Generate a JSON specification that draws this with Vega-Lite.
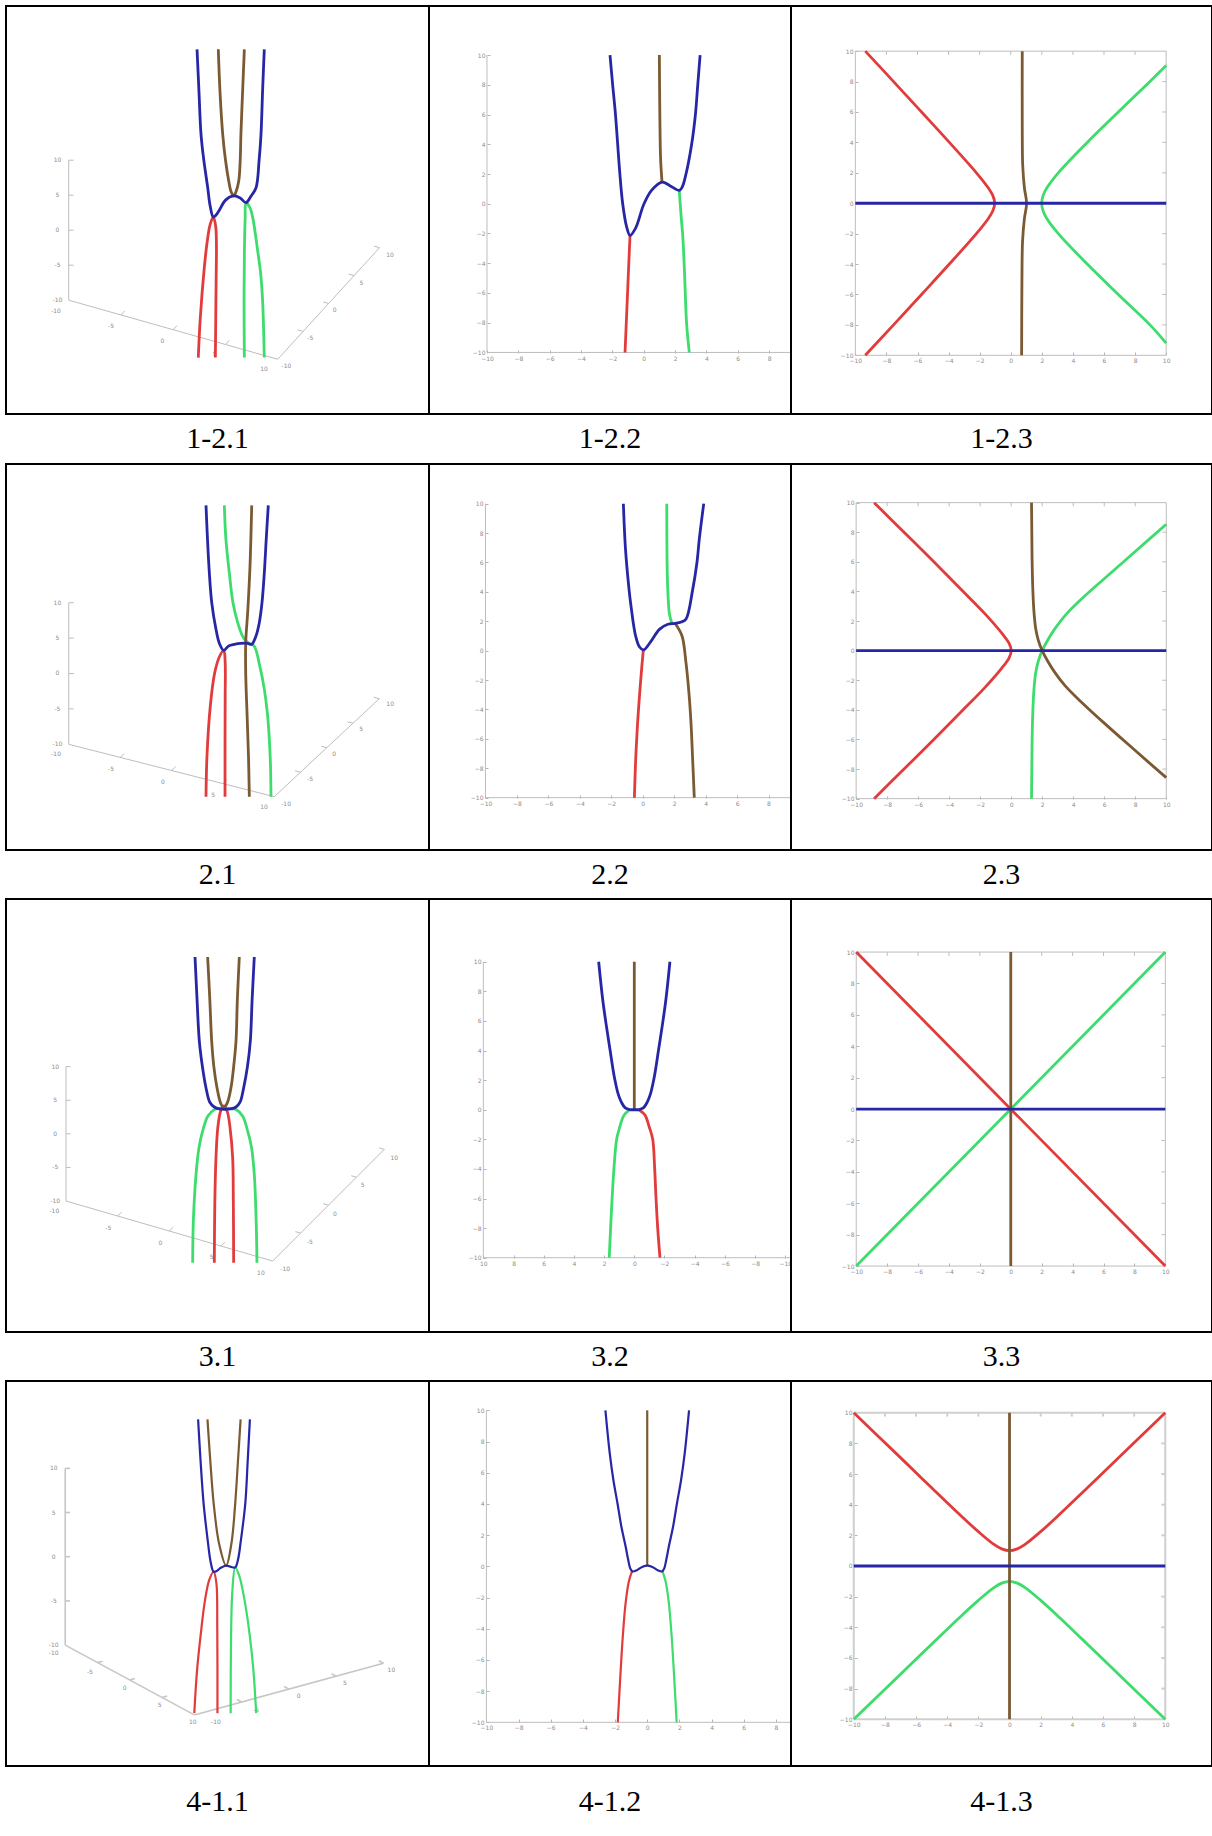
{
  "$schema": "https://vega.github.io/schema/vega-lite/v6.json",
  "background": "white",
  "padding": {"left": 5, "top": 5, "right": 0, "bottom": 0},
  "columns": 3,
  "spacing": 0,
  "bounds": "flush",
  "config": {
    "view": {"stroke": "black", "strokeWidth": 2},
    "axis": {"domain": false, "grid": false, "tickSize": -3, "tickColor": "#b4b4b4", "tickWidth": 1, "labelFontSize": 6, "labelColor": "#8c8c8c", "labelPadding": 5, "labelFont": "DejaVu Sans", "labelFlush": false, "labelOverlap": false},
    "line": {"strokeWidth": 2.8, "interpolate": "catmull-rom", "clip": true},
    "rule": {"color": "#bdbdbd", "strokeWidth": 1},
    "text": {"font": "DejaVu Sans", "fontSize": 6, "color": "#8c8c8c"}
  },
  "concat": [
        {
          "width": 423, "height": 408,
          "encoding": {
            "x": {"field": "x", "type": "quantitative", "axis": null, "scale": {"domain": [-8.96, 51.47], "nice": false, "zero": false}},
            "y": {"field": "y", "type": "quantitative", "axis": null, "scale": {"domain": [-26.26, 32.03], "nice": false, "zero": false}}
          },
          "layer": [
            {"data": {"values": [
              {"x": 0, "y": -10, "x2": 0, "y2": 10},
              {"x": 0, "y": -10, "x2": 29.86, "y2": -18.44},
              {"x": 29.86, "y": -18.44, "x2": 44.4, "y2": -2.5},
              {"x": 0, "y": -5, "x2": 0.7, "y2": -5},
              {"x": 0, "y": 0, "x2": 0.7, "y2": 0},
              {"x": 0, "y": 5, "x2": 0.7, "y2": 5},
              {"x": 0, "y": 10, "x2": 0.7, "y2": 10},
              {"x": 7.47, "y": -12.11, "x2": 8.01, "y2": -11.52},
              {"x": 14.93, "y": -14.22, "x2": 15.47, "y2": -13.63},
              {"x": 22.4, "y": -16.33, "x2": 22.94, "y2": -15.74},
              {"x": 33.5, "y": -14.46, "x2": 32.73, "y2": -14.24},
              {"x": 37.13, "y": -10.47, "x2": 36.36, "y2": -10.25},
              {"x": 40.77, "y": -6.49, "x2": 40.0, "y2": -6.27},
              {"x": 44.4, "y": -2.5, "x2": 43.63, "y2": -2.28}
            ]}, "mark": "rule", "encoding": {"x2": {"field": "x2"}, "y2": {"field": "y2"}}},
            {"data": {"values": [
              {"x": -1.6, "y": 10, "t": "10"}, {"x": -1.6, "y": 5, "t": "5"}, {"x": -1.6, "y": 0, "t": "0"}, {"x": -1.6, "y": -5, "t": "-5"}, {"x": -1.6, "y": -10, "t": "-10"},
              {"x": -1.81, "y": -11.6, "t": "-10"}, {"x": 6.04, "y": -13.7, "t": "-5"}, {"x": 13.4, "y": -15.8, "t": "0"}, {"x": 20.8, "y": -17.7, "t": "5"}, {"x": 27.9, "y": -19.9, "t": "10"},
              {"x": 31.1, "y": -19.4, "t": "-10"}, {"x": 34.5, "y": -15.4, "t": "-5"}, {"x": 38, "y": -11.4, "t": "0"}, {"x": 41.8, "y": -7.5, "t": "5"}, {"x": 45.9, "y": -3.5, "t": "10"}
            ]}, "mark": "text", "encoding": {"text": {"field": "t"}}},
            {"data": {"values": [
              {"c": "r", "x": 18.51, "y": -18.2}, {"c": "r", "x": 18.8, "y": -12.5}, {"c": "r", "x": 19.37, "y": -5.36}, {"c": "r", "x": 19.8, "y": -1.5}, {"c": "r", "x": 20.2, "y": 0.8}, {"c": "r", "x": 20.66, "y": 1.89}, {"c": "r", "x": 21.0, "y": 0.5}, {"c": "r", "x": 21.1, "y": -2}, {"c": "r", "x": 21.05, "y": -8}, {"c": "r", "x": 20.95, "y": -18.2},
              {"c": "g", "x": 25.09, "y": -18.2}, {"c": "g", "x": 25.05, "y": -10}, {"c": "g", "x": 25.1, "y": -3}, {"c": "g", "x": 25.2, "y": 1.5}, {"c": "g", "x": 25.33, "y": 3.93}, {"c": "g", "x": 25.9, "y": 3.2}, {"c": "g", "x": 26.29, "y": 1.79}, {"c": "g", "x": 27.0, "y": -2.97}, {"c": "g", "x": 27.4, "y": -6}, {"c": "g", "x": 27.7, "y": -10.1}, {"c": "g", "x": 27.94, "y": -18.2},
              {"c": "n", "x": 21.37, "y": 25.84}, {"c": "n", "x": 21.6, "y": 20}, {"c": "n", "x": 22.0, "y": 13.7}, {"c": "n", "x": 22.4, "y": 10}, {"c": "n", "x": 22.86, "y": 7.03}, {"c": "n", "x": 23.2, "y": 5.5}, {"c": "n", "x": 23.57, "y": 4.89}, {"c": "n", "x": 23.9, "y": 5.5}, {"c": "n", "x": 24.29, "y": 7.03}, {"c": "n", "x": 24.5, "y": 10}, {"c": "n", "x": 24.6, "y": 13.7}, {"c": "n", "x": 24.85, "y": 20}, {"c": "n", "x": 25.09, "y": 25.84},
              {"c": "b", "x": 18.33, "y": 25.84}, {"c": "b", "x": 18.6, "y": 20}, {"c": "b", "x": 18.9, "y": 13.7}, {"c": "b", "x": 19.3, "y": 10}, {"c": "b", "x": 19.86, "y": 6.07}, {"c": "b", "x": 20.2, "y": 3.5}, {"c": "b", "x": 20.66, "y": 1.89}, {"c": "b", "x": 21.3, "y": 2.5}, {"c": "b", "x": 22.4, "y": 4.3}, {"c": "b", "x": 23.57, "y": 4.89}, {"c": "b", "x": 24.5, "y": 4.6}, {"c": "b", "x": 25.33, "y": 3.93}, {"c": "b", "x": 26.0, "y": 4.8}, {"c": "b", "x": 26.76, "y": 6.07}, {"c": "b", "x": 27.2, "y": 10}, {"c": "b", "x": 27.47, "y": 13.7}, {"c": "b", "x": 27.7, "y": 20}, {"c": "b", "x": 27.94, "y": 25.84}
            ]}, "mark": "line", "encoding": {"color": {"field": "c", "type": "nominal", "legend": null, "scale": {"domain": ["r", "g", "n", "b"], "range": ["#e23b3b", "#3ddc6c", "#7b5a33", "#2626a6"]}}, "order": {"value": null}}}
          ]
        },
        {
          "width": 362, "height": 408,
          "encoding": {
            "x": {"field": "x", "type": "quantitative", "title": null, "scale": {"domain": [-13.7, 9.4], "nice": false, "zero": false}, "axis": {"values": [-10, -8, -6, -4, -2, 0, 2, 4, 6, 8], "offset": -61}},
            "y": {"field": "y", "type": "quantitative", "title": null, "scale": {"domain": [-14.14, 13.3], "nice": false, "zero": false}, "axis": {"values": [-10, -8, -6, -4, -2, 0, 2, 4, 6, 8, 10], "offset": -58}}
          },
          "layer": [
            {"data": {"values": [
              {"x": -10, "y": -10, "x2": -10, "y2": 10},
              {"x": -10, "y": -10, "x2": 9.4, "y2": -10}
            ]}, "mark": {"type": "rule", "clip": true}, "encoding": {"x2": {"field": "x2"}, "y2": {"field": "y2"}}},
            {"data": {"values": [
              {"c": "r", "x": -0.87, "y": -2.12}, {"c": "r", "x": -0.95, "y": -4}, {"c": "r", "x": -1.03, "y": -6}, {"c": "r", "x": -1.11, "y": -8}, {"c": "r", "x": -1.19, "y": -10},
              {"c": "g", "x": 2.27, "y": 0.9}, {"c": "g", "x": 2.4, "y": -1}, {"c": "g", "x": 2.49, "y": -2.1}, {"c": "g", "x": 2.6, "y": -4.5}, {"c": "g", "x": 2.74, "y": -8.1}, {"c": "g", "x": 2.91, "y": -10},
              {"c": "n", "x": 1.0, "y": 10}, {"c": "n", "x": 1.03, "y": 6}, {"c": "n", "x": 1.08, "y": 3}, {"c": "n", "x": 1.17, "y": 1.46},
              {"c": "b", "x": -2.15, "y": 10}, {"c": "b", "x": -1.98, "y": 8}, {"c": "b", "x": -1.8, "y": 6}, {"c": "b", "x": -1.66, "y": 4}, {"c": "b", "x": -1.52, "y": 2}, {"c": "b", "x": -1.34, "y": 0}, {"c": "b", "x": -1.1, "y": -1.5}, {"c": "b", "x": -0.87, "y": -2.12}, {"c": "b", "x": -0.5, "y": -1.6}, {"c": "b", "x": 0, "y": -0.05}, {"c": "b", "x": 0.5, "y": 0.9}, {"c": "b", "x": 1.17, "y": 1.46}, {"c": "b", "x": 1.7, "y": 1.2}, {"c": "b", "x": 2.27, "y": 0.9}, {"c": "b", "x": 2.45, "y": 1.1}, {"c": "b", "x": 2.7, "y": 2.0}, {"c": "b", "x": 3.06, "y": 4}, {"c": "b", "x": 3.3, "y": 6}, {"c": "b", "x": 3.45, "y": 8}, {"c": "b", "x": 3.6, "y": 10}
            ]}, "mark": "line", "encoding": {"color": {"field": "c", "type": "nominal", "legend": null, "scale": {"domain": ["r", "g", "n", "b"], "range": ["#e23b3b", "#3ddc6c", "#7b5a33", "#2626a6"]}}, "order": {"value": null}}}
          ]
        },
        {
          "width": 421, "height": 408,
          "encoding": {
            "x": {"field": "x", "type": "quantitative", "title": null, "scale": {"domain": [-14.14, 12.95], "nice": false, "zero": false}, "axis": {"values": [-10, -8, -6, -4, -2, 0, 2, 4, 6, 8, 10], "offset": -59}},
            "y": {"field": "y", "type": "quantitative", "title": null, "scale": {"domain": [-13.86, 12.97], "nice": false, "zero": false}, "axis": {"values": [-10, -8, -6, -4, -2, 0, 2, 4, 6, 8, 10], "offset": -64}}
          },
          "layer": [
            {"data": {"values": [
              {"x": -10, "y": -10, "x2": 10, "y2": -10}, {"x": -10, "y": 10, "x2": 10, "y2": 10}, {"x": -10, "y": -10, "x2": -10, "y2": 10}, {"x": 10, "y": -10, "x2": 10, "y2": 10},
              {"x": -8, "y": 10, "x2": -8, "y2": 9.75}, {"x": -6, "y": 10, "x2": -6, "y2": 9.75}, {"x": -4, "y": 10, "x2": -4, "y2": 9.75}, {"x": -2, "y": 10, "x2": -2, "y2": 9.75}, {"x": 0, "y": 10, "x2": 0, "y2": 9.75}, {"x": 2, "y": 10, "x2": 2, "y2": 9.75}, {"x": 4, "y": 10, "x2": 4, "y2": 9.75}, {"x": 6, "y": 10, "x2": 6, "y2": 9.75}, {"x": 8, "y": 10, "x2": 8, "y2": 9.75},
              {"x": 10, "y": -8, "x2": 9.75, "y2": -8}, {"x": 10, "y": -6, "x2": 9.75, "y2": -6}, {"x": 10, "y": -4, "x2": 9.75, "y2": -4}, {"x": 10, "y": -2, "x2": 9.75, "y2": -2}, {"x": 10, "y": 0, "x2": 9.75, "y2": 0}, {"x": 10, "y": 2, "x2": 9.75, "y2": 2}, {"x": 10, "y": 4, "x2": 9.75, "y2": 4}, {"x": 10, "y": 6, "x2": 9.75, "y2": 6}, {"x": 10, "y": 8, "x2": 9.75, "y2": 8}
            ]}, "mark": "rule", "encoding": {"x2": {"field": "x2"}, "y2": {"field": "y2"}}},
            {"data": {"values": [
              {"c": "r", "x": -9.36, "y": 10}, {"c": "r", "x": -7.54, "y": 8}, {"c": "r", "x": -5.74, "y": 6}, {"c": "r", "x": -3.95, "y": 4}, {"c": "r", "x": -2.21, "y": 2}, {"c": "r", "x": -1.44, "y": 1}, {"c": "r", "x": -1.15, "y": 0.5}, {"c": "r", "x": -1.03, "y": 0}, {"c": "r", "x": -1.15, "y": -0.5}, {"c": "r", "x": -1.44, "y": -1}, {"c": "r", "x": -2.21, "y": -2}, {"c": "r", "x": -3.95, "y": -4}, {"c": "r", "x": -5.74, "y": -6}, {"c": "r", "x": -7.54, "y": -8}, {"c": "r", "x": -9.36, "y": -10},
              {"c": "g", "x": 10, "y": 9.05}, {"c": "g", "x": 8.96, "y": 8}, {"c": "g", "x": 6.92, "y": 6}, {"c": "g", "x": 4.92, "y": 4}, {"c": "g", "x": 3.06, "y": 2}, {"c": "g", "x": 2.32, "y": 1}, {"c": "g", "x": 2.08, "y": 0.5}, {"c": "g", "x": 1.99, "y": 0}, {"c": "g", "x": 2.08, "y": -0.5}, {"c": "g", "x": 2.32, "y": -1}, {"c": "g", "x": 3.06, "y": -2}, {"c": "g", "x": 4.92, "y": -4}, {"c": "g", "x": 6.92, "y": -6}, {"c": "g", "x": 8.96, "y": -8}, {"c": "g", "x": 10, "y": -9.2},
              {"c": "n", "x": 0.74, "y": 10}, {"c": "n", "x": 0.74, "y": 5}, {"c": "n", "x": 0.77, "y": 2.5}, {"c": "n", "x": 0.88, "y": 1}, {"c": "n", "x": 1.02, "y": 0}, {"c": "n", "x": 0.88, "y": -1}, {"c": "n", "x": 0.76, "y": -2.5}, {"c": "n", "x": 0.72, "y": -5}, {"c": "n", "x": 0.7, "y": -10},
              {"c": "b", "x": -10, "y": 0}, {"c": "b", "x": 10, "y": 0}
            ]}, "mark": "line", "encoding": {"color": {"field": "c", "type": "nominal", "legend": null, "scale": {"domain": ["r", "g", "n", "b"], "range": ["#e23b3b", "#3ddc6c", "#7b5a33", "#2626a6"]}}, "order": {"value": null}}}
          ]
        },
        {"width": 423, "height": 50, "data": {"values": [{"t": "1-2.1"}]}, "mark": {"type": "text", "font": "Liberation Serif", "fontSize": 30, "color": "black", "baseline": "middle"}, "encoding": {"text": {"field": "t"}}},
        {"width": 362, "height": 50, "data": {"values": [{"t": "1-2.2"}]}, "mark": {"type": "text", "font": "Liberation Serif", "fontSize": 30, "color": "black", "baseline": "middle"}, "encoding": {"text": {"field": "t"}}},
        {"width": 421, "height": 50, "data": {"values": [{"t": "1-2.3"}]}, "mark": {"type": "text", "font": "Liberation Serif", "fontSize": 30, "color": "black", "baseline": "middle"}, "encoding": {"text": {"field": "t"}}},
        {
          "width": 423, "height": 386,
          "encoding": {
            "x": {"field": "x", "type": "quantitative", "axis": null, "scale": {"domain": [-8.86, 50.89], "nice": false, "zero": false}},
            "y": {"field": "y", "type": "quantitative", "axis": null, "scale": {"domain": [-24.93, 29.59], "nice": false, "zero": false}}
          },
          "layer": [
            {"data": {"values": [
              {"x": 0, "y": -10, "x2": 0, "y2": 10},
              {"x": 0, "y": -10, "x2": 29.04, "y2": -17.4},
              {"x": 29.04, "y": -17.4, "x2": 43.87, "y2": -3.56},
              {"x": 0, "y": -5, "x2": 0.7, "y2": -5},
              {"x": 0, "y": 0, "x2": 0.7, "y2": 0},
              {"x": 0, "y": 5, "x2": 0.7, "y2": 5},
              {"x": 0, "y": 10, "x2": 0.7, "y2": 10},
              {"x": 7.26, "y": -11.85, "x2": 7.84, "y2": -11.31},
              {"x": 14.52, "y": -13.7, "x2": 15.1, "y2": -13.16},
              {"x": 21.78, "y": -15.55, "x2": 22.36, "y2": -15.01},
              {"x": 32.75, "y": -13.94, "x2": 31.97, "y2": -13.74},
              {"x": 36.46, "y": -10.48, "x2": 35.68, "y2": -10.28},
              {"x": 40.16, "y": -7.02, "x2": 39.38, "y2": -6.82},
              {"x": 43.87, "y": -3.56, "x2": 43.09, "y2": -3.36}
            ]}, "mark": "rule", "encoding": {"x2": {"field": "x2"}, "y2": {"field": "y2"}}},
            {"data": {"values": [
              {"x": -1.6, "y": 10, "t": "10"}, {"x": -1.6, "y": 5, "t": "5"}, {"x": -1.6, "y": 0, "t": "0"}, {"x": -1.6, "y": -5, "t": "-5"}, {"x": -1.6, "y": -10, "t": "-10"},
              {"x": -1.79, "y": -11.4, "t": "-10"}, {"x": 5.97, "y": -13.5, "t": "-5"}, {"x": 13.3, "y": -15.3, "t": "0"}, {"x": 20.4, "y": -17.1, "t": "5"}, {"x": 27.6, "y": -18.8, "t": "10"},
              {"x": 30.7, "y": -18.4, "t": "-10"}, {"x": 34.1, "y": -14.9, "t": "-5"}, {"x": 37.5, "y": -11.3, "t": "0"}, {"x": 41.3, "y": -7.9, "t": "5"}, {"x": 45.4, "y": -4.35, "t": "10"}
            ]}, "mark": "text", "encoding": {"text": {"field": "t"}}},
            {"data": {"values": [
              {"c": "r", "x": 19.39, "y": -17.4}, {"c": "r", "x": 19.53, "y": -11.65}, {"c": "r", "x": 20.0, "y": -4.59}, {"c": "r", "x": 20.6, "y": 0}, {"c": "r", "x": 21.3, "y": 2.4}, {"c": "r", "x": 21.9, "y": 3.27}, {"c": "r", "x": 22.1, "y": 1.5}, {"c": "r", "x": 22.1, "y": -3}, {"c": "r", "x": 22.08, "y": -10}, {"c": "r", "x": 22.08, "y": -17.4},
              {"c": "g", "x": 21.98, "y": 23.75}, {"c": "g", "x": 22.2, "y": 19}, {"c": "g", "x": 22.68, "y": 14.24}, {"c": "g", "x": 23.2, "y": 10}, {"c": "g", "x": 23.87, "y": 7.18}, {"c": "g", "x": 24.5, "y": 5.4}, {"c": "g", "x": 25.04, "y": 4.59}, {"c": "g", "x": 25.6, "y": 4.2}, {"c": "g", "x": 26.2, "y": 3.88}, {"c": "g", "x": 27.0, "y": 1}, {"c": "g", "x": 27.63, "y": -2.24}, {"c": "g", "x": 28.05, "y": -5.5}, {"c": "g", "x": 28.34, "y": -9.3}, {"c": "g", "x": 28.5, "y": -13}, {"c": "g", "x": 28.57, "y": -17.4},
              {"c": "n", "x": 25.85, "y": 23.75}, {"c": "n", "x": 25.6, "y": 15}, {"c": "n", "x": 25.3, "y": 9}, {"c": "n", "x": 25.0, "y": 4.3}, {"c": "n", "x": 25.0, "y": 0}, {"c": "n", "x": 25.2, "y": -6}, {"c": "n", "x": 25.4, "y": -12}, {"c": "n", "x": 25.51, "y": -17.4},
              {"c": "b", "x": 19.39, "y": 23.75}, {"c": "b", "x": 19.6, "y": 19}, {"c": "b", "x": 19.86, "y": 14.24}, {"c": "b", "x": 20.2, "y": 10}, {"c": "b", "x": 20.8, "y": 6.24}, {"c": "b", "x": 21.3, "y": 4.2}, {"c": "b", "x": 21.9, "y": 3.27}, {"c": "b", "x": 22.6, "y": 3.9}, {"c": "b", "x": 23.39, "y": 4.12}, {"c": "b", "x": 24.3, "y": 4.26}, {"c": "b", "x": 25.28, "y": 4.26}, {"c": "b", "x": 25.85, "y": 4.12}, {"c": "b", "x": 26.45, "y": 5.3}, {"c": "b", "x": 26.92, "y": 7.18}, {"c": "b", "x": 27.3, "y": 10}, {"c": "b", "x": 27.63, "y": 14.24}, {"c": "b", "x": 27.9, "y": 19}, {"c": "b", "x": 28.19, "y": 23.75}
            ]}, "mark": "line", "encoding": {"color": {"field": "c", "type": "nominal", "legend": null, "scale": {"domain": ["r", "g", "n", "b"], "range": ["#e23b3b", "#3ddc6c", "#7b5a33", "#2626a6"]}}, "order": {"value": null}}}
          ]
        },
        {
          "width": 362, "height": 386,
          "encoding": {
            "x": {"field": "x", "type": "quantitative", "title": null, "scale": {"domain": [-13.59, 9.43], "nice": false, "zero": false}, "axis": {"values": [-10, -8, -6, -4, -2, 0, 2, 4, 6, 8], "offset": -52}},
            "y": {"field": "y", "type": "quantitative", "title": null, "scale": {"domain": [-13.56, 12.7], "nice": false, "zero": false}, "axis": {"values": [-10, -8, -6, -4, -2, 0, 2, 4, 6, 8, 10], "offset": -56}}
          },
          "layer": [
            {"data": {"values": [
              {"x": -10, "y": -10, "x2": -10, "y2": 10},
              {"x": -10, "y": -10, "x2": 9.43, "y2": -10}
            ]}, "mark": {"type": "rule", "clip": true}, "encoding": {"x2": {"field": "x2"}, "y2": {"field": "y2"}}},
            {"data": {"values": [
              {"c": "r", "x": 0.04, "y": 0.05}, {"c": "r", "x": -0.05, "y": -1}, {"c": "r", "x": -0.2, "y": -3}, {"c": "r", "x": -0.33, "y": -5}, {"c": "r", "x": -0.45, "y": -7.5}, {"c": "r", "x": -0.53, "y": -10},
              {"c": "g", "x": 1.53, "y": 10}, {"c": "g", "x": 1.55, "y": 6}, {"c": "g", "x": 1.6, "y": 4}, {"c": "g", "x": 1.7, "y": 2.5}, {"c": "g", "x": 1.85, "y": 1.88},
              {"c": "n", "x": 2.07, "y": 1.85}, {"c": "n", "x": 2.5, "y": 1.0}, {"c": "n", "x": 2.75, "y": -0.8}, {"c": "n", "x": 2.95, "y": -3}, {"c": "n", "x": 3.07, "y": -4.9}, {"c": "n", "x": 3.18, "y": -7.5}, {"c": "n", "x": 3.28, "y": -10},
              {"c": "b", "x": -1.23, "y": 10}, {"c": "b", "x": -1.1, "y": 7}, {"c": "b", "x": -0.9, "y": 4.5}, {"c": "b", "x": -0.74, "y": 3}, {"c": "b", "x": -0.45, "y": 1}, {"c": "b", "x": -0.2, "y": 0.25}, {"c": "b", "x": 0.05, "y": 0.05}, {"c": "b", "x": 0.5, "y": 0.6}, {"c": "b", "x": 1.06, "y": 1.45}, {"c": "b", "x": 1.6, "y": 1.8}, {"c": "b", "x": 2.07, "y": 1.86}, {"c": "b", "x": 2.45, "y": 1.95}, {"c": "b", "x": 2.75, "y": 2.14}, {"c": "b", "x": 3.18, "y": 4.17}, {"c": "b", "x": 3.45, "y": 6}, {"c": "b", "x": 3.6, "y": 7.6}, {"c": "b", "x": 3.88, "y": 10}
            ]}, "mark": "line", "encoding": {"color": {"field": "c", "type": "nominal", "legend": null, "scale": {"domain": ["r", "g", "n", "b"], "range": ["#e23b3b", "#3ddc6c", "#7b5a33", "#2626a6"]}}, "order": {"value": null}}}
          ]
        },
        {
          "width": 421, "height": 386,
          "encoding": {
            "x": {"field": "x", "type": "quantitative", "title": null, "scale": {"domain": [-14.2, 12.95], "nice": false, "zero": false}, "axis": {"values": [-10, -8, -6, -4, -2, 0, 2, 4, 6, 8, 10], "offset": -51}},
            "y": {"field": "y", "type": "quantitative", "title": null, "scale": {"domain": [-13.47, 12.61], "nice": false, "zero": false}, "axis": {"values": [-10, -8, -6, -4, -2, 0, 2, 4, 6, 8, 10], "offset": -65}}
          },
          "layer": [
            {"data": {"values": [
              {"x": -10, "y": -10, "x2": 10, "y2": -10}, {"x": -10, "y": 10, "x2": 10, "y2": 10}, {"x": -10, "y": -10, "x2": -10, "y2": 10}, {"x": 10, "y": -10, "x2": 10, "y2": 10},
              {"x": -8, "y": 10, "x2": -8, "y2": 9.75}, {"x": -6, "y": 10, "x2": -6, "y2": 9.75}, {"x": -4, "y": 10, "x2": -4, "y2": 9.75}, {"x": -2, "y": 10, "x2": -2, "y2": 9.75}, {"x": 0, "y": 10, "x2": 0, "y2": 9.75}, {"x": 2, "y": 10, "x2": 2, "y2": 9.75}, {"x": 4, "y": 10, "x2": 4, "y2": 9.75}, {"x": 6, "y": 10, "x2": 6, "y2": 9.75}, {"x": 8, "y": 10, "x2": 8, "y2": 9.75},
              {"x": 10, "y": -8, "x2": 9.75, "y2": -8}, {"x": 10, "y": -6, "x2": 9.75, "y2": -6}, {"x": 10, "y": -4, "x2": 9.75, "y2": -4}, {"x": 10, "y": -2, "x2": 9.75, "y2": -2}, {"x": 10, "y": 0, "x2": 9.75, "y2": 0}, {"x": 10, "y": 2, "x2": 9.75, "y2": 2}, {"x": 10, "y": 4, "x2": 9.75, "y2": 4}, {"x": 10, "y": 6, "x2": 9.75, "y2": 6}, {"x": 10, "y": 8, "x2": 9.75, "y2": 8}
            ]}, "mark": "rule", "encoding": {"x2": {"field": "x2"}, "y2": {"field": "y2"}}},
            {"data": {"values": [
              {"c": "r", "x": -8.84, "y": 10}, {"c": "r", "x": -6.91, "y": 8}, {"c": "r", "x": -4.99, "y": 6}, {"c": "r", "x": -3.24, "y": 4.15}, {"c": "r", "x": -1.7, "y": 2.5}, {"c": "r", "x": -0.62, "y": 1.2}, {"c": "r", "x": -0.14, "y": 0.5}, {"c": "r", "x": 0, "y": 0}, {"c": "r", "x": -0.14, "y": -0.5}, {"c": "r", "x": -0.62, "y": -1.2}, {"c": "r", "x": -1.7, "y": -2.5}, {"c": "r", "x": -3.24, "y": -4.15}, {"c": "r", "x": -4.99, "y": -6}, {"c": "r", "x": -6.91, "y": -8}, {"c": "r", "x": -8.84, "y": -10},
              {"c": "g", "x": 10, "y": 8.54}, {"c": "g", "x": 8, "y": 6.7}, {"c": "g", "x": 6, "y": 4.86}, {"c": "g", "x": 4.5, "y": 3.45}, {"c": "g", "x": 3.5, "y": 2.4}, {"c": "g", "x": 2.8, "y": 1.45}, {"c": "g", "x": 2.35, "y": 0.7}, {"c": "g", "x": 2.0, "y": 0}, {"c": "g", "x": 1.75, "y": -0.7}, {"c": "g", "x": 1.58, "y": -1.5}, {"c": "g", "x": 1.47, "y": -2.6}, {"c": "g", "x": 1.4, "y": -4}, {"c": "g", "x": 1.35, "y": -6}, {"c": "g", "x": 1.33, "y": -8}, {"c": "g", "x": 1.31, "y": -10},
              {"c": "n", "x": 1.31, "y": 10}, {"c": "n", "x": 1.33, "y": 8}, {"c": "n", "x": 1.35, "y": 6}, {"c": "n", "x": 1.4, "y": 4}, {"c": "n", "x": 1.47, "y": 2.6}, {"c": "n", "x": 1.58, "y": 1.5}, {"c": "n", "x": 1.75, "y": 0.7}, {"c": "n", "x": 2.0, "y": 0}, {"c": "n", "x": 2.35, "y": -0.7}, {"c": "n", "x": 2.8, "y": -1.45}, {"c": "n", "x": 3.5, "y": -2.4}, {"c": "n", "x": 4.5, "y": -3.45}, {"c": "n", "x": 6, "y": -4.9}, {"c": "n", "x": 8, "y": -6.75}, {"c": "n", "x": 10, "y": -8.58},
              {"c": "b", "x": -10, "y": 0}, {"c": "b", "x": 10, "y": 0}
            ]}, "mark": "line", "encoding": {"color": {"field": "c", "type": "nominal", "legend": null, "scale": {"domain": ["r", "g", "n", "b"], "range": ["#e23b3b", "#3ddc6c", "#7b5a33", "#2626a6"]}}, "order": {"value": null}}}
          ]
        },
        {"width": 423, "height": 49, "data": {"values": [{"t": "2.1"}]}, "mark": {"type": "text", "font": "Liberation Serif", "fontSize": 30, "color": "black", "baseline": "middle"}, "encoding": {"text": {"field": "t"}}},
        {"width": 362, "height": 49, "data": {"values": [{"t": "2.2"}]}, "mark": {"type": "text", "font": "Liberation Serif", "fontSize": 30, "color": "black", "baseline": "middle"}, "encoding": {"text": {"field": "t"}}},
        {"width": 421, "height": 49, "data": {"values": [{"t": "2.3"}]}, "mark": {"type": "text", "font": "Liberation Serif", "fontSize": 30, "color": "black", "baseline": "middle"}, "encoding": {"text": {"field": "t"}}},
        {
          "width": 423, "height": 433,
          "encoding": {
            "x": {"field": "x", "type": "quantitative", "axis": null, "scale": {"domain": [-8.93, 54.02], "nice": false, "zero": false}},
            "y": {"field": "y", "type": "quantitative", "axis": null, "scale": {"domain": [-29.49, 34.94], "nice": false, "zero": false}}
          },
          "layer": [
            {"data": {"values": [
              {"x": 0, "y": -10, "x2": 0, "y2": 10},
              {"x": 0, "y": -10, "x2": 30.76, "y2": -18.93},
              {"x": 30.76, "y": -18.93, "x2": 47.37, "y2": -2.31},
              {"x": 0, "y": -5, "x2": 0.7, "y2": -5},
              {"x": 0, "y": 0, "x2": 0.7, "y2": 0},
              {"x": 0, "y": 5, "x2": 0.7, "y2": 5},
              {"x": 0, "y": 10, "x2": 0.7, "y2": 10},
              {"x": 7.69, "y": -12.23, "x2": 8.26, "y2": -11.66},
              {"x": 15.38, "y": -14.47, "x2": 15.95, "y2": -13.9},
              {"x": 23.07, "y": -16.7, "x2": 23.64, "y2": -16.13},
              {"x": 34.91, "y": -14.77, "x2": 34.14, "y2": -14.55},
              {"x": 39.07, "y": -10.62, "x2": 38.3, "y2": -10.4},
              {"x": 43.22, "y": -6.46, "x2": 42.45, "y2": -6.24},
              {"x": 47.37, "y": -2.31, "x2": 46.6, "y2": -2.09}
            ]}, "mark": "rule", "encoding": {"x2": {"field": "x2"}, "y2": {"field": "y2"}}},
            {"data": {"values": [
              {"x": -1.6, "y": 10, "t": "10"}, {"x": -1.6, "y": 5, "t": "5"}, {"x": -1.6, "y": 0, "t": "0"}, {"x": -1.6, "y": -5, "t": "-5"}, {"x": -1.6, "y": -10, "t": "-10"},
              {"x": -1.74, "y": -11.49, "t": "-10"}, {"x": 6.3, "y": -13.97, "t": "-5"}, {"x": 14.03, "y": -16.2, "t": "0"}, {"x": 21.68, "y": -18.4, "t": "5"}, {"x": 29.0, "y": -20.67, "t": "10"},
              {"x": 32.63, "y": -20.17, "t": "-10"}, {"x": 36.3, "y": -16.06, "t": "-5"}, {"x": 40.03, "y": -11.9, "t": "0"}, {"x": 44.15, "y": -7.67, "t": "5"}, {"x": 48.85, "y": -3.56, "t": "10"}
            ]}, "mark": "text", "encoding": {"text": {"field": "t"}}},
            {"data": {"values": [
              {"c": "g", "x": 18.85, "y": -19.18}, {"c": "g", "x": 18.95, "y": -13}, {"c": "g", "x": 19.35, "y": -6.03}, {"c": "g", "x": 19.8, "y": -2}, {"c": "g", "x": 20.34, "y": 0.42}, {"c": "g", "x": 21.1, "y": 2.6}, {"c": "g", "x": 22.07, "y": 3.6}, {"c": "g", "x": 23.0, "y": 3.8}, {"c": "g", "x": 24.0, "y": 3.8}, {"c": "g", "x": 25.3, "y": 3.6}, {"c": "g", "x": 26.3, "y": 2.6}, {"c": "g", "x": 27.03, "y": 0.42}, {"c": "g", "x": 27.6, "y": -2}, {"c": "g", "x": 28.02, "y": -6.03}, {"c": "g", "x": 28.3, "y": -13}, {"c": "g", "x": 28.42, "y": -19.18},
              {"c": "r", "x": 22.07, "y": -19.18}, {"c": "r", "x": 22.15, "y": -10}, {"c": "r", "x": 22.32, "y": -3.55}, {"c": "r", "x": 22.6, "y": 1}, {"c": "r", "x": 23.05, "y": 3.5}, {"c": "r", "x": 23.5, "y": 4.14}, {"c": "r", "x": 24.0, "y": 3.3}, {"c": "r", "x": 24.4, "y": 1}, {"c": "r", "x": 24.8, "y": -3.55}, {"c": "r", "x": 24.9, "y": -10}, {"c": "r", "x": 24.95, "y": -19.18},
              {"c": "n", "x": 21.08, "y": 26.31}, {"c": "n", "x": 21.4, "y": 20}, {"c": "n", "x": 21.68, "y": 13.81}, {"c": "n", "x": 22.0, "y": 10}, {"c": "n", "x": 22.47, "y": 6.86}, {"c": "n", "x": 23.0, "y": 4.6}, {"c": "n", "x": 23.47, "y": 3.88}, {"c": "n", "x": 24.0, "y": 4.6}, {"c": "n", "x": 24.55, "y": 6.86}, {"c": "n", "x": 24.95, "y": 10}, {"c": "n", "x": 25.3, "y": 13.81}, {"c": "n", "x": 25.5, "y": 20}, {"c": "n", "x": 25.79, "y": 26.31},
              {"c": "b", "x": 19.2, "y": 26.31}, {"c": "b", "x": 19.5, "y": 20}, {"c": "b", "x": 19.84, "y": 13.81}, {"c": "b", "x": 20.3, "y": 10}, {"c": "b", "x": 20.83, "y": 6.86}, {"c": "b", "x": 21.4, "y": 4.7}, {"c": "b", "x": 22.07, "y": 3.99}, {"c": "b", "x": 22.8, "y": 3.7}, {"c": "b", "x": 23.6, "y": 3.64}, {"c": "b", "x": 24.5, "y": 3.7}, {"c": "b", "x": 25.3, "y": 3.99}, {"c": "b", "x": 25.9, "y": 4.7}, {"c": "b", "x": 26.44, "y": 6.86}, {"c": "b", "x": 27.0, "y": 10}, {"c": "b", "x": 27.43, "y": 13.81}, {"c": "b", "x": 27.7, "y": 20}, {"c": "b", "x": 28.02, "y": 26.31}
            ]}, "mark": "line", "encoding": {"color": {"field": "c", "type": "nominal", "legend": null, "scale": {"domain": ["r", "g", "n", "b"], "range": ["#e23b3b", "#3ddc6c", "#7b5a33", "#2626a6"]}}, "order": {"value": null}}}
          ]
        },
        {
          "width": 362, "height": 433,
          "encoding": {
            "x": {"field": "x", "type": "quantitative", "title": null, "scale": {"domain": [-10.38, 13.6], "reverse": true, "nice": false, "zero": false}, "axis": {"values": [-10, -8, -6, -4, -2, 0, 2, 4, 6, 8, 10], "offset": -74}},
            "y": {"field": "y", "type": "quantitative", "title": null, "scale": {"domain": [-15.02, 14.24], "nice": false, "zero": false}, "axis": {"values": [-10, -8, -6, -4, -2, 0, 2, 4, 6, 8, 10], "offset": -54}}
          },
          "layer": [
            {"data": {"values": [
              {"x": 10, "y": -10, "x2": 10, "y2": 10},
              {"x": 10, "y": -10, "x2": -10.38, "y2": -10}
            ]}, "mark": {"type": "rule", "clip": true}, "encoding": {"x2": {"field": "x2"}, "y2": {"field": "y2"}}},
            {"data": {"values": [
              {"c": "r", "x": -0.3, "y": 0}, {"c": "r", "x": -0.7, "y": -0.35}, {"c": "r", "x": -1.0, "y": -1.2}, {"c": "r", "x": -1.22, "y": -2}, {"c": "r", "x": -1.35, "y": -4}, {"c": "r", "x": -1.44, "y": -6}, {"c": "r", "x": -1.55, "y": -8}, {"c": "r", "x": -1.7, "y": -10},
              {"c": "g", "x": 0.3, "y": 0}, {"c": "g", "x": 0.7, "y": -0.4}, {"c": "g", "x": 1.0, "y": -1.3}, {"c": "g", "x": 1.17, "y": -2}, {"c": "g", "x": 1.35, "y": -4}, {"c": "g", "x": 1.47, "y": -6}, {"c": "g", "x": 1.57, "y": -8}, {"c": "g", "x": 1.66, "y": -10},
              {"c": "n", "x": 0, "y": 0}, {"c": "n", "x": 0, "y": 10},
              {"c": "b", "x": 2.36, "y": 10}, {"c": "b", "x": 2.1, "y": 7.5}, {"c": "b", "x": 1.87, "y": 5.8}, {"c": "b", "x": 1.6, "y": 4}, {"c": "b", "x": 1.32, "y": 2.2}, {"c": "b", "x": 1.05, "y": 1.0}, {"c": "b", "x": 0.85, "y": 0.5}, {"c": "b", "x": 0.6, "y": 0.12}, {"c": "b", "x": 0.3, "y": 0.01}, {"c": "b", "x": 0, "y": 0}, {"c": "b", "x": -0.3, "y": 0.01}, {"c": "b", "x": -0.6, "y": 0.12}, {"c": "b", "x": -0.85, "y": 0.5}, {"c": "b", "x": -1.05, "y": 1.0}, {"c": "b", "x": -1.32, "y": 2.2}, {"c": "b", "x": -1.6, "y": 4}, {"c": "b", "x": -1.87, "y": 5.8}, {"c": "b", "x": -2.1, "y": 7.5}, {"c": "b", "x": -2.36, "y": 10}
            ]}, "mark": "line", "encoding": {"color": {"field": "c", "type": "nominal", "legend": null, "scale": {"domain": ["r", "g", "n", "b"], "range": ["#e23b3b", "#3ddc6c", "#7b5a33", "#2626a6"]}}, "order": {"value": null}}}
          ]
        },
        {
          "width": 421, "height": 433,
          "encoding": {
            "x": {"field": "x", "type": "quantitative", "title": null, "scale": {"domain": [-14.22, 13.02], "nice": false, "zero": false}, "axis": {"values": [-10, -8, -6, -4, -2, 0, 2, 4, 6, 8, 10], "offset": -66}},
            "y": {"field": "y", "type": "quantitative", "title": null, "scale": {"domain": [-14.2, 13.38], "nice": false, "zero": false}, "axis": {"values": [-10, -8, -6, -4, -2, 0, 2, 4, 6, 8, 10], "offset": -65}}
          },
          "layer": [
            {"data": {"values": [
              {"x": -10, "y": -10, "x2": 10, "y2": -10}, {"x": -10, "y": 10, "x2": 10, "y2": 10}, {"x": -10, "y": -10, "x2": -10, "y2": 10}, {"x": 10, "y": -10, "x2": 10, "y2": 10},
              {"x": -8, "y": 10, "x2": -8, "y2": 9.75}, {"x": -6, "y": 10, "x2": -6, "y2": 9.75}, {"x": -4, "y": 10, "x2": -4, "y2": 9.75}, {"x": -2, "y": 10, "x2": -2, "y2": 9.75}, {"x": 0, "y": 10, "x2": 0, "y2": 9.75}, {"x": 2, "y": 10, "x2": 2, "y2": 9.75}, {"x": 4, "y": 10, "x2": 4, "y2": 9.75}, {"x": 6, "y": 10, "x2": 6, "y2": 9.75}, {"x": 8, "y": 10, "x2": 8, "y2": 9.75},
              {"x": 10, "y": -8, "x2": 9.75, "y2": -8}, {"x": 10, "y": -6, "x2": 9.75, "y2": -6}, {"x": 10, "y": -4, "x2": 9.75, "y2": -4}, {"x": 10, "y": -2, "x2": 9.75, "y2": -2}, {"x": 10, "y": 0, "x2": 9.75, "y2": 0}, {"x": 10, "y": 2, "x2": 9.75, "y2": 2}, {"x": 10, "y": 4, "x2": 9.75, "y2": 4}, {"x": 10, "y": 6, "x2": 9.75, "y2": 6}, {"x": 10, "y": 8, "x2": 9.75, "y2": 8}
            ]}, "mark": "rule", "encoding": {"x2": {"field": "x2"}, "y2": {"field": "y2"}}},
            {"data": {"values": [
              {"c": "g", "x": -10, "y": -10}, {"c": "g", "x": 10, "y": 10},
              {"c": "r", "x": -10, "y": 10}, {"c": "r", "x": 10, "y": -10},
              {"c": "n", "x": 0, "y": -10}, {"c": "n", "x": 0, "y": 10},
              {"c": "b", "x": -10, "y": 0}, {"c": "b", "x": 10, "y": 0}
            ]}, "mark": "line", "encoding": {"color": {"field": "c", "type": "nominal", "legend": null, "scale": {"domain": ["r", "g", "n", "b"], "range": ["#e23b3b", "#3ddc6c", "#7b5a33", "#2626a6"]}}, "order": {"value": null}}}
          ]
        },
        {"width": 423, "height": 49, "data": {"values": [{"t": "3.1"}]}, "mark": {"type": "text", "font": "Liberation Serif", "fontSize": 30, "color": "black", "baseline": "middle"}, "encoding": {"text": {"field": "t"}}},
        {"width": 362, "height": 49, "data": {"values": [{"t": "3.2"}]}, "mark": {"type": "text", "font": "Liberation Serif", "fontSize": 30, "color": "black", "baseline": "middle"}, "encoding": {"text": {"field": "t"}}},
        {"width": 421, "height": 49, "data": {"values": [{"t": "3.3"}]}, "mark": {"type": "text", "font": "Liberation Serif", "fontSize": 30, "color": "black", "baseline": "middle"}, "encoding": {"text": {"field": "t"}}},
        {
          "width": 423, "height": 385,
          "encoding": {
            "x": {"field": "x", "type": "quantitative", "axis": null, "scale": {"domain": [-6.7, 41.15], "nice": false, "zero": false}},
            "y": {"field": "y", "type": "quantitative", "axis": null, "scale": {"domain": [-23.68, 19.88], "nice": false, "zero": false}}
          },
          "layer": [
            {"data": {"values": [
              {"x": 0, "y": -10, "x2": 0, "y2": 10},
              {"x": 0, "y": -10, "x2": 14.6, "y2": -17.9},
              {"x": 14.6, "y": -17.9, "x2": 36.0, "y2": -12.06},
              {"x": 0, "y": -5, "x2": 0.55, "y2": -5},
              {"x": 0, "y": 0, "x2": 0.55, "y2": 0},
              {"x": 0, "y": 5, "x2": 0.55, "y2": 5},
              {"x": 0, "y": 10, "x2": 0.55, "y2": 10},
              {"x": 3.65, "y": -11.98, "x2": 4.23, "y2": -11.82},
              {"x": 7.3, "y": -13.95, "x2": 7.88, "y2": -13.79},
              {"x": 10.95, "y": -15.93, "x2": 11.53, "y2": -15.77},
              {"x": 19.95, "y": -16.44, "x2": 19.42, "y2": -16.15},
              {"x": 25.3, "y": -14.98, "x2": 24.77, "y2": -14.69},
              {"x": 30.65, "y": -13.52, "x2": 30.12, "y2": -13.23},
              {"x": 36.0, "y": -12.06, "x2": 35.47, "y2": -11.77}
            ]}, "mark": {"type": "rule", "strokeWidth": 1.6, "color": "#c6c6c6"}, "encoding": {"x2": {"field": "x2"}, "y2": {"field": "y2"}}},
            {"data": {"values": [
              {"x": -1.3, "y": 10, "t": "10"}, {"x": -1.3, "y": 5, "t": "5"}, {"x": -1.3, "y": 0, "t": "0"}, {"x": -1.3, "y": -5, "t": "-5"}, {"x": -1.3, "y": -10, "t": "-10"},
              {"x": -1.31, "y": -10.93, "t": "-10"}, {"x": 2.79, "y": -13.0, "t": "-5"}, {"x": 6.73, "y": -14.9, "t": "0"}, {"x": 10.67, "y": -16.8, "t": "5"}, {"x": 14.42, "y": -18.67, "t": "10"},
              {"x": 17.05, "y": -18.67, "t": "-10"}, {"x": 21.6, "y": -17.3, "t": "-5"}, {"x": 26.4, "y": -15.8, "t": "0"}, {"x": 31.65, "y": -14.25, "t": "5"}, {"x": 36.9, "y": -12.8, "t": "10"}
            ]}, "mark": "text", "encoding": {"text": {"field": "t"}}},
            {"data": {"values": [
              {"c": "r", "x": 14.6, "y": -17.7}, {"c": "r", "x": 14.9, "y": -13}, {"c": "r", "x": 15.3, "y": -9.05}, {"c": "r", "x": 15.8, "y": -5}, {"c": "r", "x": 16.3, "y": -2.6}, {"c": "r", "x": 16.79, "y": -1.7}, {"c": "r", "x": 17.1, "y": -3}, {"c": "r", "x": 17.2, "y": -8}, {"c": "r", "x": 17.22, "y": -17.7},
              {"c": "g", "x": 18.71, "y": -17.7}, {"c": "g", "x": 18.75, "y": -10}, {"c": "g", "x": 18.9, "y": -4}, {"c": "g", "x": 19.23, "y": -1.2}, {"c": "g", "x": 19.7, "y": -2.2}, {"c": "g", "x": 20.3, "y": -5}, {"c": "g", "x": 20.89, "y": -9.05}, {"c": "g", "x": 21.3, "y": -13}, {"c": "g", "x": 21.6, "y": -17.7},
              {"c": "n", "x": 16.09, "y": 15.54}, {"c": "n", "x": 16.4, "y": 11}, {"c": "n", "x": 16.79, "y": 6.04}, {"c": "n", "x": 17.4, "y": 1.5}, {"c": "n", "x": 18.2, "y": -1.0}, {"c": "n", "x": 18.8, "y": 1.5}, {"c": "n", "x": 19.23, "y": 6.04}, {"c": "n", "x": 19.55, "y": 11}, {"c": "n", "x": 19.84, "y": 15.54},
              {"c": "b", "x": 15.03, "y": 15.54}, {"c": "b", "x": 15.3, "y": 11}, {"c": "b", "x": 15.65, "y": 6.04}, {"c": "b", "x": 16.1, "y": 2}, {"c": "b", "x": 16.45, "y": -0.6}, {"c": "b", "x": 16.79, "y": -1.7}, {"c": "b", "x": 17.1, "y": -1.65}, {"c": "b", "x": 17.6, "y": -1.25}, {"c": "b", "x": 18.2, "y": -1.0}, {"c": "b", "x": 18.75, "y": -1.15}, {"c": "b", "x": 19.23, "y": -1.2}, {"c": "b", "x": 19.55, "y": -0.3}, {"c": "b", "x": 19.85, "y": 1.7}, {"c": "b", "x": 20.37, "y": 6.04}, {"c": "b", "x": 20.65, "y": 11}, {"c": "b", "x": 20.89, "y": 15.54}
            ]}, "mark": {"type": "line", "strokeWidth": 2.2}, "encoding": {"color": {"field": "c", "type": "nominal", "legend": null, "scale": {"domain": ["r", "g", "n", "b"], "range": ["#e23b3b", "#3ddc6c", "#7b5a33", "#2626a6"]}}, "order": {"value": null}}}
          ]
        },
        {
          "width": 362, "height": 385,
          "encoding": {
            "x": {"field": "x", "type": "quantitative", "title": null, "scale": {"domain": [-13.57, 8.94], "nice": false, "zero": false}, "axis": {"values": [-10, -8, -6, -4, -2, 0, 2, 4, 6, 8], "offset": -44}},
            "y": {"field": "y", "type": "quantitative", "title": null, "scale": {"domain": [-12.8, 11.88], "nice": false, "zero": false}, "axis": {"values": [-10, -8, -6, -4, -2, 0, 2, 4, 6, 8, 10], "offset": -57}}
          },
          "layer": [
            {"data": {"values": [
              {"x": -10, "y": -10, "x2": -10, "y2": 10},
              {"x": -10, "y": -10, "x2": 8.94, "y2": -10}
            ]}, "mark": {"type": "rule", "clip": true}, "encoding": {"x2": {"field": "x2"}, "y2": {"field": "y2"}}},
            {"data": {"values": [
              {"c": "r", "x": -0.95, "y": -0.33}, {"c": "r", "x": -1.15, "y": -1.0}, {"c": "r", "x": -1.35, "y": -2.4}, {"c": "r", "x": -1.52, "y": -4.5}, {"c": "r", "x": -1.65, "y": -6.65}, {"c": "r", "x": -1.83, "y": -10},
              {"c": "g", "x": 0.95, "y": -0.33}, {"c": "g", "x": 1.15, "y": -1.0}, {"c": "g", "x": 1.35, "y": -2.4}, {"c": "g", "x": 1.52, "y": -4.5}, {"c": "g", "x": 1.65, "y": -6.65}, {"c": "g", "x": 1.83, "y": -10},
              {"c": "n", "x": 0, "y": 0.05}, {"c": "n", "x": 0, "y": 10},
              {"c": "b", "x": -2.6, "y": 10}, {"c": "b", "x": -2.33, "y": 7.24}, {"c": "b", "x": -2.1, "y": 5.5}, {"c": "b", "x": -1.85, "y": 4.04}, {"c": "b", "x": -1.6, "y": 2.5}, {"c": "b", "x": -1.35, "y": 1.3}, {"c": "b", "x": -1.18, "y": 0.4}, {"c": "b", "x": -1.05, "y": -0.15}, {"c": "b", "x": -0.9, "y": -0.33}, {"c": "b", "x": -0.65, "y": -0.25}, {"c": "b", "x": -0.32, "y": -0.04}, {"c": "b", "x": 0, "y": 0.05}, {"c": "b", "x": 0.32, "y": -0.04}, {"c": "b", "x": 0.65, "y": -0.25}, {"c": "b", "x": 0.9, "y": -0.33}, {"c": "b", "x": 1.05, "y": -0.15}, {"c": "b", "x": 1.18, "y": 0.4}, {"c": "b", "x": 1.35, "y": 1.3}, {"c": "b", "x": 1.6, "y": 2.5}, {"c": "b", "x": 1.85, "y": 4.04}, {"c": "b", "x": 2.1, "y": 5.5}, {"c": "b", "x": 2.33, "y": 7.24}, {"c": "b", "x": 2.6, "y": 10}
            ]}, "mark": {"type": "line", "strokeWidth": 2.2}, "encoding": {"color": {"field": "c", "type": "nominal", "legend": null, "scale": {"domain": ["r", "g", "n", "b"], "range": ["#e23b3b", "#3ddc6c", "#7b5a33", "#2626a6"]}}, "order": {"value": null}}}
          ]
        },
        {
          "width": 421, "height": 385,
          "encoding": {
            "x": {"field": "x", "type": "quantitative", "title": null, "scale": {"domain": [-14.03, 13.0], "nice": false, "zero": false}, "axis": {"values": [-10, -8, -6, -4, -2, 0, 2, 4, 6, 8, 10], "offset": -47}},
            "y": {"field": "y", "type": "quantitative", "title": null, "scale": {"domain": [-13.05, 12.07], "nice": false, "zero": false}, "axis": {"values": [-10, -8, -6, -4, -2, 0, 2, 4, 6, 8, 10], "offset": -63}}
          },
          "layer": [
            {"data": {"values": [
              {"x": -10, "y": -10, "x2": 10, "y2": -10}, {"x": -10, "y": 10, "x2": 10, "y2": 10}, {"x": -10, "y": -10, "x2": -10, "y2": 10}, {"x": 10, "y": -10, "x2": 10, "y2": 10},
              {"x": -8, "y": 10, "x2": -8, "y2": 9.75}, {"x": -6, "y": 10, "x2": -6, "y2": 9.75}, {"x": -4, "y": 10, "x2": -4, "y2": 9.75}, {"x": -2, "y": 10, "x2": -2, "y2": 9.75}, {"x": 0, "y": 10, "x2": 0, "y2": 9.75}, {"x": 2, "y": 10, "x2": 2, "y2": 9.75}, {"x": 4, "y": 10, "x2": 4, "y2": 9.75}, {"x": 6, "y": 10, "x2": 6, "y2": 9.75}, {"x": 8, "y": 10, "x2": 8, "y2": 9.75},
              {"x": 10, "y": -8, "x2": 9.75, "y2": -8}, {"x": 10, "y": -6, "x2": 9.75, "y2": -6}, {"x": 10, "y": -4, "x2": 9.75, "y2": -4}, {"x": 10, "y": -2, "x2": 9.75, "y2": -2}, {"x": 10, "y": 0, "x2": 9.75, "y2": 0}, {"x": 10, "y": 2, "x2": 9.75, "y2": 2}, {"x": 10, "y": 4, "x2": 9.75, "y2": 4}, {"x": 10, "y": 6, "x2": 9.75, "y2": 6}, {"x": 10, "y": 8, "x2": 9.75, "y2": 8}
            ]}, "mark": {"type": "rule", "strokeWidth": 2, "color": "#cfcfcf"}, "encoding": {"x2": {"field": "x2"}, "y2": {"field": "y2"}}},
            {"data": {"values": [
              {"c": "r", "x": -10, "y": 10}, {"c": "r", "x": -7, "y": 7.07}, {"c": "r", "x": -5, "y": 5.1}, {"c": "r", "x": -3, "y": 3.16}, {"c": "r", "x": -2, "y": 2.24}, {"c": "r", "x": -1, "y": 1.41}, {"c": "r", "x": -0.5, "y": 1.12}, {"c": "r", "x": 0, "y": 1}, {"c": "r", "x": 0.5, "y": 1.12}, {"c": "r", "x": 1, "y": 1.41}, {"c": "r", "x": 2, "y": 2.24}, {"c": "r", "x": 3, "y": 3.16}, {"c": "r", "x": 5, "y": 5.1}, {"c": "r", "x": 7, "y": 7.07}, {"c": "r", "x": 10, "y": 10},
              {"c": "g", "x": -10, "y": -10}, {"c": "g", "x": -7, "y": -7.07}, {"c": "g", "x": -5, "y": -5.1}, {"c": "g", "x": -3, "y": -3.16}, {"c": "g", "x": -2, "y": -2.24}, {"c": "g", "x": -1, "y": -1.41}, {"c": "g", "x": -0.5, "y": -1.12}, {"c": "g", "x": 0, "y": -1}, {"c": "g", "x": 0.5, "y": -1.12}, {"c": "g", "x": 1, "y": -1.41}, {"c": "g", "x": 2, "y": -2.24}, {"c": "g", "x": 3, "y": -3.16}, {"c": "g", "x": 5, "y": -5.1}, {"c": "g", "x": 7, "y": -7.07}, {"c": "g", "x": 10, "y": -10},
              {"c": "n", "x": 0, "y": -10}, {"c": "n", "x": 0, "y": 10},
              {"c": "b", "x": -10, "y": 0}, {"c": "b", "x": 10, "y": 0}
            ]}, "mark": "line", "encoding": {"color": {"field": "c", "type": "nominal", "legend": null, "scale": {"domain": ["r", "g", "n", "b"], "range": ["#e23b3b", "#3ddc6c", "#7b5a33", "#2626a6"]}}, "order": {"value": null}}}
          ]
        },
        {"width": 423, "height": 71, "data": {"values": [{"t": "4-1.1"}]}, "mark": {"type": "text", "font": "Liberation Serif", "fontSize": 30, "color": "black", "baseline": "middle"}, "encoding": {"text": {"field": "t"}}},
        {"width": 362, "height": 71, "data": {"values": [{"t": "4-1.2"}]}, "mark": {"type": "text", "font": "Liberation Serif", "fontSize": 30, "color": "black", "baseline": "middle"}, "encoding": {"text": {"field": "t"}}},
        {"width": 421, "height": 71, "data": {"values": [{"t": "4-1.3"}]}, "mark": {"type": "text", "font": "Liberation Serif", "fontSize": 30, "color": "black", "baseline": "middle"}, "encoding": {"text": {"field": "t"}}}
  ]
}
